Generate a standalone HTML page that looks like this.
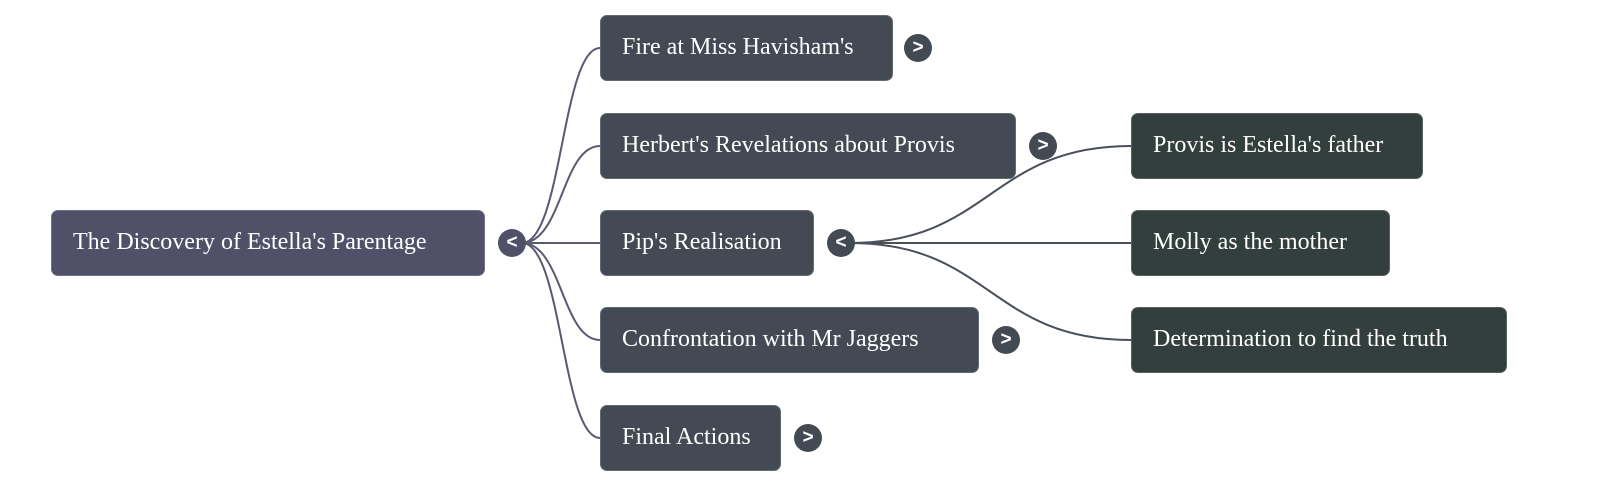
<!DOCTYPE html>
<html>
<head>
<meta charset="utf-8">
<style>
  html, body { margin: 0; padding: 0; background: #ffffff; }
  body { width: 1600px; height: 487px; position: relative; overflow: hidden; font-family: "Liberation Serif", "Times New Roman", serif; }
  .node {
    position: absolute;
    box-sizing: border-box;
    height: 66px;
    line-height: 62px;
    padding-left: 21px;
    color: #ffffff;
    font-size: 24px;
    border-radius: 7px;
    white-space: nowrap;
    border: 1px solid rgba(255,255,255,0.18);
  }
  .root { background: #505168; }
  .child { background: #434a54; }
  .gc { background: #323f3c; }
  .h {
    position: absolute;
    width: 28px; height: 28px;
    border-radius: 50%;
    color: #fff;
    font-family: "Liberation Sans", "DejaVu Sans", sans-serif;
    font-weight: bold;
    font-size: 19px;
    line-height: 27px;
    text-align: center;
  }
  .hr { background: #505168; }
  .hc { background: #434a54; }
  svg { position: absolute; left: 0; top: 0; }
</style>
</head>
<body>
<svg width="1600" height="487" viewBox="0 0 1600 487">
  <g fill="none" stroke="#5a5a72" stroke-width="2">
    <path d="M522 243 C 562 243, 562 48, 600 48"/>
    <path d="M522 243 C 562 243, 562 146, 600 146"/>
    <path d="M522 243 L 600 243"/>
    <path d="M522 243 C 562 243, 562 340, 600 340"/>
    <path d="M522 243 C 562 243, 562 438, 600 438"/>
  </g>
  <g fill="none" stroke="#4a5059" stroke-width="2">
    <path d="M850 243 C 990 243, 990 146, 1131 146"/>
    <path d="M850 243 L 1131 243"/>
    <path d="M850 243 C 990 243, 990 340, 1131 340"/>
  </g>
</svg>

<div class="node root" style="left:51px; top:210px; width:434px;">The Discovery of Estella's Parentage</div>
<div class="h hr" style="left:498px; top:229px;">&lt;</div>

<div class="node child" style="left:600px; top:15px; width:293px;">Fire at Miss Havisham's</div>
<div class="h hc" style="left:904px; top:34px;">&gt;</div>

<div class="node child" style="left:600px; top:113px; width:416px;">Herbert's Revelations about Provis</div>
<div class="h hc" style="left:1029px; top:132px;">&gt;</div>

<div class="node child" style="left:600px; top:210px; width:214px;">Pip's Realisation</div>
<div class="h hc" style="left:827px; top:229px;">&lt;</div>

<div class="node child" style="left:600px; top:307px; width:379px;">Confrontation with Mr Jaggers</div>
<div class="h hc" style="left:992px; top:326px;">&gt;</div>

<div class="node child" style="left:600px; top:405px; width:181px;">Final Actions</div>
<div class="h hc" style="left:794px; top:424px;">&gt;</div>

<div class="node gc" style="left:1131px; top:113px; width:292px;">Provis is Estella's father</div>
<div class="node gc" style="left:1131px; top:210px; width:259px;">Molly as the mother</div>
<div class="node gc" style="left:1131px; top:307px; width:376px;">Determination to find the truth</div>
</body>
</html>
